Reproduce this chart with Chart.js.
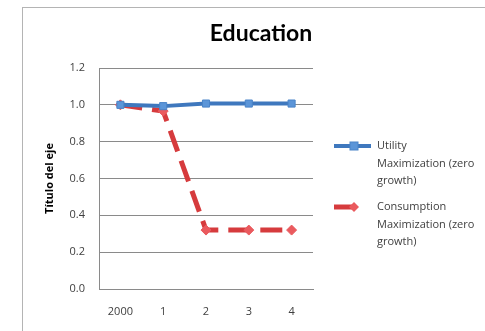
<!DOCTYPE html>
<html>
<head>
<meta charset="utf-8">
<script src="https://cdn.jsdelivr.net/npm/chart.js@4"></script>
<style>
  html, body { margin: 0; padding: 0; background: #fff; }
  #wrap { position: relative; width: 485px; height: 331px; overflow: hidden; }
</style>
</head>
<body>
<div id="wrap"><canvas id="c" width="485" height="331"></canvas></div>
<script>
// Chart data
const chartTitle = 'Education';
const categories = ['2000', '1', '2', '3', '4'];
const utilityValues = [1.0, 0.993, 1.007, 1.007, 1.007];
const consumptionValues = [1.0, 0.966, 0.32, 0.32, 0.32];
const seriesNames = [
  ['Utility', 'Maximization (zero', 'growth)'],
  ['Consumption', 'Maximization (zero', 'growth)']
];
const yTicks = [0, 0.2, 0.4, 0.6, 0.8, 1.0, 1.2];

const FONT = '"Open Sans", Lato, "DejaVu Sans", sans-serif';
const TITLE_FONT = 'Lato, "Open Sans", "DejaVu Sans", sans-serif';

// Outer frame around the whole chart object, plus the centred title
const framePlugin = {
  id: 'frame',
  beforeDraw(chart) {
    const ctx = chart.ctx;
    ctx.save();
    ctx.fillStyle = '#fff';
    ctx.fillRect(0, 0, chart.width, chart.height);
    ctx.strokeStyle = '#b4b4b4';
    ctx.lineWidth = 1;
    ctx.strokeRect(22.5, 7.5, 700, 700);
    ctx.fillStyle = '#000';
    ctx.font = 'bold 23px ' + TITLE_FONT;
    ctx.textAlign = 'center';
    ctx.textBaseline = 'middle';
    ctx.fillText(chartTitle, 261, 34);
    ctx.restore();
  }
};

// Legend on the right with wrapped series names
const sideLegend = {
  id: 'sideLegend',
  afterDraw(chart) {
    const ctx = chart.ctx;
    const entries = [
      { y: 146, ds: chart.data.datasets[0], lines: seriesNames[0], len: 37 },
      { y: 207, ds: chart.data.datasets[1], lines: seriesNames[1], len: 22 }
    ];
    ctx.save();
    entries.forEach(e => {
      const x0 = 334;
      ctx.strokeStyle = e.ds.borderColor;
      ctx.lineWidth = e.ds.borderWidth;
      ctx.setLineDash([]);
      ctx.beginPath();
      ctx.moveTo(x0, e.y);
      ctx.lineTo(x0 + e.len, e.y);
      ctx.stroke();
      const mx = 354;
      ctx.fillStyle = e.ds.pointBackgroundColor;
      ctx.strokeStyle = e.ds.pointBorderColor;
      ctx.lineWidth = 1;
      if (e.ds.pointStyle === 'rect') {
        ctx.fillRect(mx - 4, e.y - 4, 8, 8);
        ctx.strokeRect(mx - 4, e.y - 4, 8, 8);
      } else {
        ctx.beginPath();
        ctx.moveTo(mx, e.y - 5);
        ctx.lineTo(mx + 5, e.y);
        ctx.lineTo(mx, e.y + 5);
        ctx.lineTo(mx - 5, e.y);
        ctx.closePath();
        ctx.fill();
      }
      ctx.fillStyle = '#404040';
      ctx.font = '11px ' + FONT;
      ctx.textBaseline = 'middle';
      ctx.textAlign = 'left';
      e.lines.forEach((t, i) => ctx.fillText(t, 377, e.y + i * 17.5));
    });
    ctx.restore();
  }
};

new Chart(document.getElementById('c'), {
  type: 'line',
  data: {
    labels: categories,
    datasets: [
      {
        label: seriesNames[0].join(' '),
        data: utilityValues,
        borderColor: '#3f78be',
        borderWidth: 4,
        pointStyle: 'rect',
        pointRadius: 5,
        pointBackgroundColor: '#5b95d8',
        pointBorderColor: '#4a84c8',
        pointBorderWidth: 1,
        tension: 0
      },
      {
        label: seriesNames[1].join(' '),
        data: consumptionValues,
        borderColor: '#d63b3d',
        borderWidth: 5,
        borderDash: [22, 10],
        pointStyle: 'rectRot',
        pointRadius: 5,
        pointBackgroundColor: '#ea5a5e',
        pointBorderColor: '#ea5a5e',
        pointBorderWidth: 1,
        tension: 0
      }
    ]
  },
  options: {
    responsive: false,
    animation: false,
    layout: { padding: { left: 22, right: 172, top: 68, bottom: 0 } },
    plugins: {
      legend: { display: false },
      tooltip: { enabled: false },
      title: { display: false }
    },
    scales: {
      x: {
        offset: true,
        grid: { display: false, drawTicks: false },
        border: { color: '#8a8a8a', width: 1 },
        ticks: { color: '#404040', font: { family: FONT, size: 11 }, padding: 16 },
        afterFit(s) { s.height = 42; }
      },
      y: {
        min: 0,
        max: 1.2,
        afterBuildTicks(s) { s.ticks = yTicks.map(v => ({ value: v })); },
        grid: { color: '#8a8a8a', lineWidth: 1, drawTicks: false },
        border: { color: '#8a8a8a', width: 1 },
        ticks: {
          color: '#404040',
          font: { family: FONT, size: 11 },
          padding: 14,
          callback: v => Number(v).toFixed(1)
        },
        title: {
          display: true,
          text: 'Título del eje',
          color: '#000',
          font: { family: FONT, size: 11, weight: 'bold' },
          padding: { top: 21, bottom: 0 }
        },
        afterFit(s) { s.width = 77; }
      }
    }
  },
  plugins: [framePlugin, sideLegend]
});
</script>
</body>
</html>
